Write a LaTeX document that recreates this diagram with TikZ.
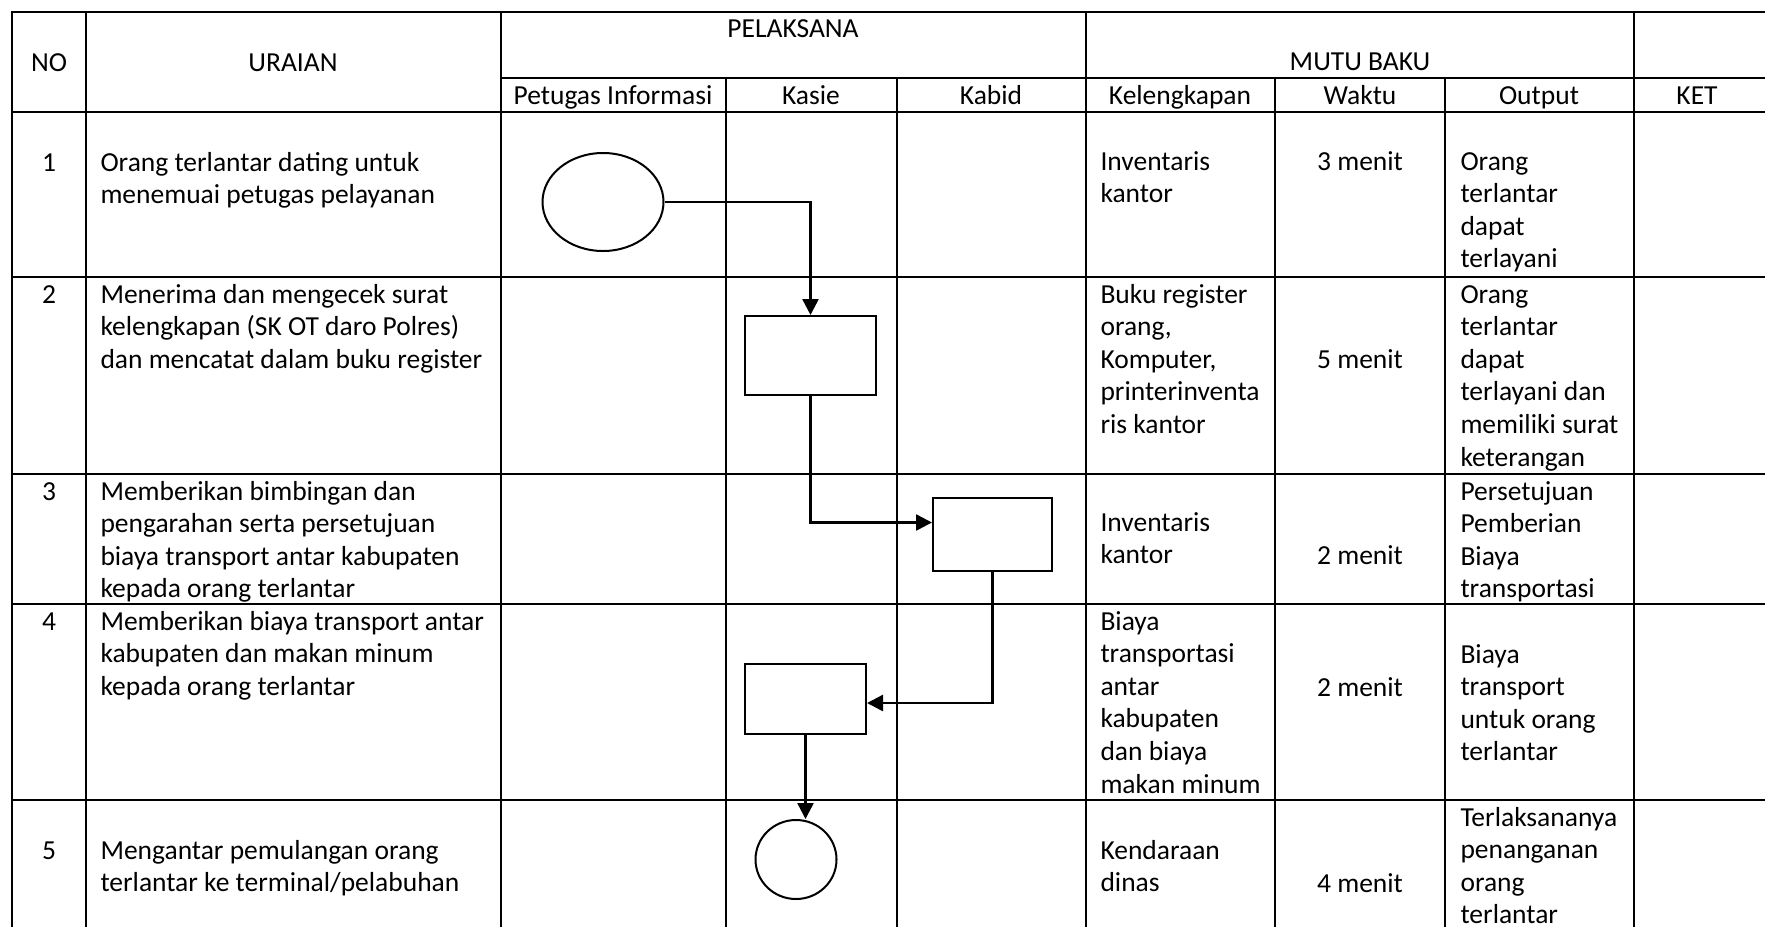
\documentclass[tikz,border=0pt]{standalone}
\usepackage{fontspec}
\setmainfont{Carlito}
\usetikzlibrary{arrows.meta,shapes.geometric}
\newcommand\mlines[1]{\begin{tabular}[t]{@{}l@{}}#1\end{tabular}}
\begin{document}
\begin{tikzpicture}[x=0.4pt,y=-0.4pt,
  font=\fontsize{11}{13.04}\selectfont,
  grid/.style={line width=1.1pt},
  lt/.style={anchor=base west, inner sep=0pt},
  ct/.style={anchor=base, inner sep=0pt},
  shp/.style={draw, line width=0.8pt, inner sep=0pt},
  conn/.style={line width=1pt, -{Triangle[length=6.4pt,width=6.4pt]}},
]
\useasboundingbox (0,0) rectangle (1765,927);
% table grid
\draw[grid] (12,927) -- (12,12) -- (1765,12);
\draw[grid] (86,12) -- (86,927);
\draw[grid] (501,12) -- (501,927);
\draw[grid] (1086,12) -- (1086,927);
\draw[grid] (1634,12) -- (1634,927);
\draw[grid] (726,78) -- (726,927);
\draw[grid] (897,78) -- (897,927);
\draw[grid] (1275,78) -- (1275,927);
\draw[grid] (1445,78) -- (1445,927);
\draw[grid] (501,78) -- (1765,78);
\foreach \yy in {112,277,474,604,800} \draw[grid] (12,\yy) -- (1765,\yy);
% headers
\node[ct] (hNO) at (49,71) {NO};
\node[ct] (hUR) at (293,71) {URAIAN};
\node[ct] (hPL) at (793,37) {PELAKSANA};
\node[ct] (hMB) at (1360,70) {MUTU BAKU};
\node[ct] (hPI) at (613,104) {Petugas Informasi};
\node[ct] (hKS) at (811,104) {Kasie};
\node[ct] (hKB) at (991,104) {Kabid};
\node[ct] (hKL) at (1180,104) {Kelengkapan};
\node[ct] (hWK) at (1360,104) {Waktu};
\node[ct] (hOP) at (1539,104) {Output};
\node[ct] (hKT) at (1697,104) {KET};
% row 1
\node[ct] (n1) at (49,171) {1};
\node[lt] (u1) at (100,171) {\mlines{Orang terlantar dating untuk\\menemuai petugas pelayanan}};
\node[lt] (k1) at (1100,170) {\mlines{Inventaris\\kantor}};
\node[ct] (w1) at (1360,170) {3 menit};
\node[lt] (o1) at (1460,170) {\mlines{Orang\\terlantar\\dapat\\terlayani}};
% row 2
\node[ct] (n2) at (49,303) {2};
\node[lt] (u2) at (100,303) {\mlines{Menerima dan mengecek surat\\kelengkapan (SK OT daro Polres)\\dan mencatat dalam buku register}};
\node[lt] (k2) at (1100,303) {\mlines{Buku register\\orang,\\Komputer,\\printerinventa\\ris kantor}};
\node[ct] (w2) at (1360,368) {5 menit};
\node[lt] (o2) at (1460,303) {\mlines{Orang\\terlantar\\dapat\\terlayani dan\\memiliki surat\\keterangan}};
% row 3
\node[ct] (n3) at (49,500) {3};
\node[lt] (u3) at (100,500) {\mlines{Memberikan bimbingan dan\\pengarahan serta persetujuan\\biaya transport antar kabupaten\\kepada orang terlantar}};
\node[lt] (k3) at (1100,531) {\mlines{Inventaris\\kantor}};
\node[ct] (w3) at (1360,564) {2 menit};
\node[lt] (o3) at (1460,500) {\mlines{Persetujuan\\Pemberian\\Biaya\\transportasi}};
% row 4
\node[ct] (n4) at (49,630) {4};
\node[lt] (u4) at (100,630) {\mlines{Memberikan biaya transport antar\\kabupaten dan makan minum\\kepada orang terlantar}};
\node[lt] (k4) at (1100,630) {\mlines{Biaya\\transportasi\\antar\\kabupaten\\dan biaya\\makan minum}};
\node[ct] (w4) at (1360,696) {2 menit};
\node[lt] (o4) at (1460,663) {\mlines{Biaya\\transport\\untuk orang\\terlantar}};
% row 5
\node[ct] (n5) at (49,859) {5};
\node[lt] (u5) at (100,859) {\mlines{Mengantar pemulangan orang\\terlantar ke terminal/pelabuhan}};
\node[lt] (k5) at (1100,859) {\mlines{Kendaraan\\dinas}};
\node[ct] (w5) at (1360,892) {4 menit};
\node[lt] (o5) at (1460,826) {\mlines{Terlaksananya\\penanganan\\orang\\terlantar}};
% flow shapes
\node[shp, ellipse, minimum width=48.4pt, minimum height=39.2pt] (e1) at (603,202) {};
\node[shp, rectangle, minimum width=52.4pt, minimum height=31.6pt] (b1) at (810.5,355.5) {};
\node[shp, rectangle, minimum width=47.6pt, minimum height=29.2pt] (b2) at (992.5,534.5) {};
\node[shp, rectangle, minimum width=48.4pt, minimum height=28pt] (b3) at (805.5,699) {};
\node[shp, ellipse, minimum width=32.4pt, minimum height=31.6pt] (e2) at (796,859.5) {};
% connectors
\draw[conn] (e1.east) -| (b1.north);
\draw[conn] (b1.south) |- ([yshift=4.8pt]b2.west);
\draw[conn] (b2.south) |- ([yshift=-1.6pt]b3.east);
\draw[conn] (b3.south) -- (b3.south |- e2.north);
\end{tikzpicture}
\end{document}
